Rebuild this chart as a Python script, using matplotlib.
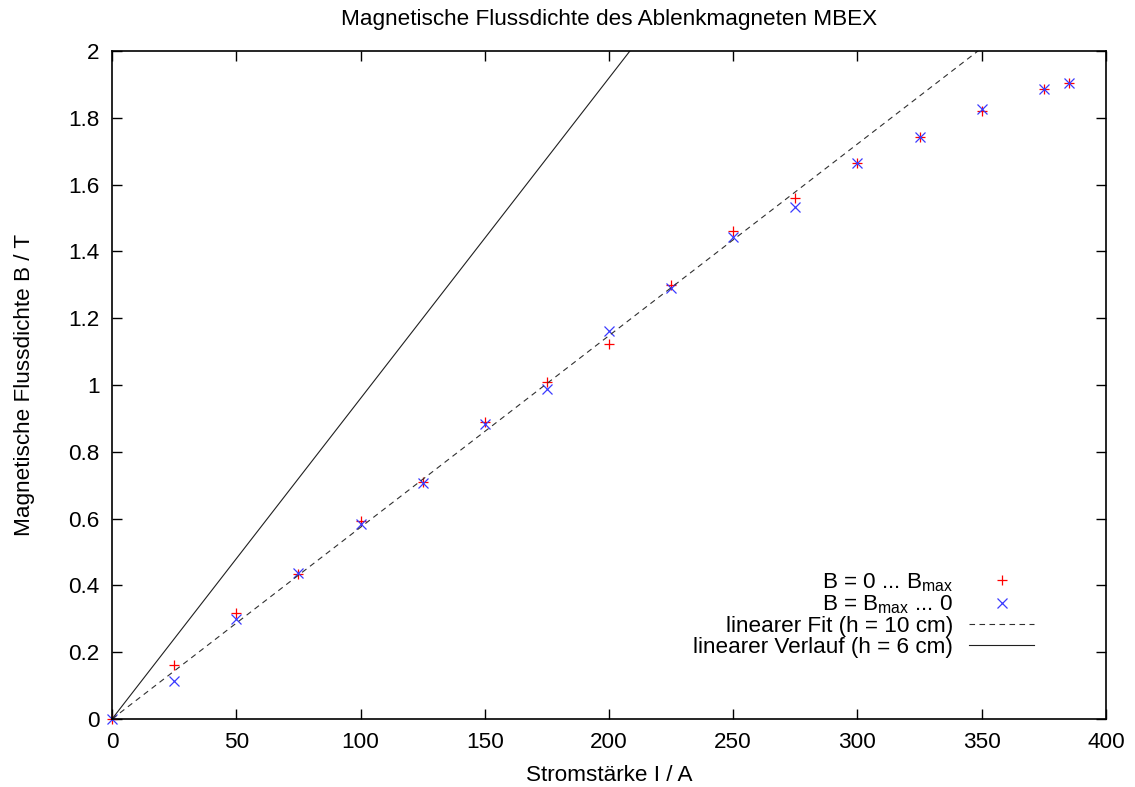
import numpy as np
from matplotlib import pyplot as plt

plt.rcParams['font.family'] = ['Liberation Sans', 'DejaVu Sans']
plt.rcParams['mathtext.default'] = 'regular'

# Messwerte
strom = [0, 25, 50, 75, 100, 125, 150, 175, 200, 225, 250, 275, 300, 325, 350, 375, 385]
b_auf = [0, 0.162, 0.316, 0.433, 0.594, 0.709, 0.890, 1.008, 1.122, 1.299, 1.462, 1.559,
         1.664, 1.744, 1.820, 1.886, 1.905]
b_ab = [0, 0.115, 0.299, 0.438, 0.584, 0.707, 0.883, 0.988, 1.163, 1.290, 1.444, 1.532,
        1.664, 1.744, 1.826, 1.886, 1.905]

# Steigungen der Geraden (T/A)
m_fit = 0.005739
m_lin = 0.009596
x_lin = np.array([0, 400])

fs = 16.2

fig = plt.figure(figsize=(11.35, 7.87), dpi=100)
ax = fig.add_axes([0.0987, 0.0864, 0.8757, 0.8488])

ax.plot(strom, b_auf, '+', color='#ff0000', ms=7.5, mew=0.9, clip_on=False,
        label=r'B = 0 ... B$_{max}$')
ax.plot(strom, b_ab, 'x', color='#3a3aff', ms=7, mew=0.9, clip_on=False,
        label=r'B = B$_{max}$ ... 0')
ax.plot(x_lin, m_fit * x_lin, color='#303030', lw=0.8, linestyle=(0, (5, 4)),
        label='linearer Fit (h = 10 cm)')
ax.plot(x_lin, m_lin * x_lin, color='#202020', lw=0.8, label='linearer Verlauf (h = 6 cm)')

ax.set_xlim(0, 400)
ax.set_ylim(0, 2)
ax.set_xticks(np.arange(0, 401, 50))
ax.set_yticks(np.arange(0, 2.01, 0.2))
ax.set_yticklabels(['0', '0.2', '0.4', '0.6', '0.8', '1', '1.2', '1.4', '1.6', '1.8', '2'])
ax.tick_params(direction='in', length=7, width=1, top=True, right=True, labelsize=fs, pad=9)
for s in ax.spines.values():
    s.set_linewidth(1.2)

ax.set_title('Magnetische Flussdichte des Ablenkmagneten MBEX', fontsize=fs, pad=19)
ax.set_xlabel('Stromstärke I / A', fontsize=fs, labelpad=9)
ax.set_ylabel('Magnetische Flussdichte B / T', fontsize=fs, labelpad=24)

ax.legend(loc='lower right', bbox_to_anchor=(0.937, 0.0775), markerfirst=False, frameon=False,
          fontsize=fs, handlelength=2.9, handletextpad=0.7, labelspacing=0.0,
          borderaxespad=0)

plt.savefig('out.png', dpi=100)
